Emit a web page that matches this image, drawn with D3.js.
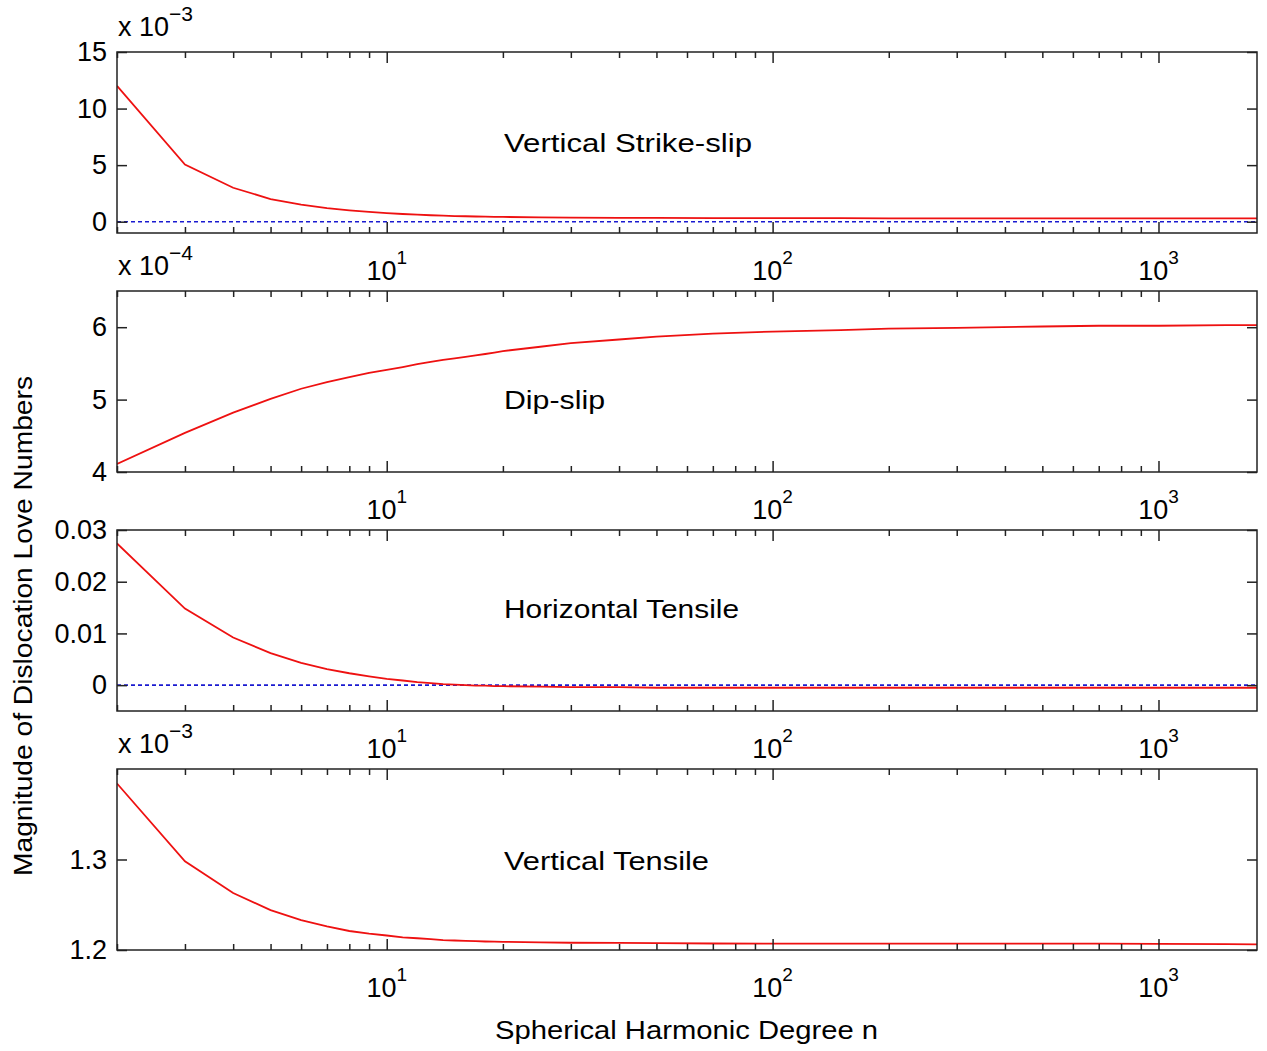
<!DOCTYPE html>
<html><head><meta charset="utf-8">
<script src="https://cdn.jsdelivr.net/npm/d3@7"></script>
<style>
body{margin:0;background:#fff}
svg{display:block}
text{font-family:"Liberation Sans",Arial,sans-serif;fill:#000}
</style>
</head><body>
<svg id="chart" width="1267" height="1051"></svg>
<script>
// ---- data ----
const degrees = [2,3,4,5,6,7,8,9,10,11,12,13,14,15,16,17,18,19,20,25,30,40,50,70,100,150,200,300,500,700,1000,1500,1800];
// x 1e-3
const strikeSlip = [12.0,5.05,3.0,2.0,1.5,1.2,1.0,0.86,0.76,0.68,0.62,0.57,0.53,0.50,0.48,0.46,0.44,0.43,0.42,0.38,0.36,0.34,0.33,0.32,0.31,0.31,0.30,0.30,0.30,0.30,0.30,0.30,0.30];
// x 1e-4
const dipSlip = [4.11,4.54,4.82,5.01,5.15,5.24,5.31,5.37,5.41,5.45,5.49,5.52,5.55,5.57,5.59,5.61,5.63,5.65,5.67,5.73,5.78,5.83,5.87,5.91,5.94,5.96,5.98,5.99,6.01,6.02,6.02,6.03,6.03];
const horizontalTensile = [0.0274,0.0148,0.0092,0.0062,0.0043,0.0031,0.0023,0.0017,0.0012,0.0009,0.0006,0.0004,0.0002,0.0001,0.0,-0.0001,-0.0001,-0.0002,-0.0002,-0.0003,-0.0004,-0.0004,-0.0005,-0.0005,-0.0005,-0.0005,-0.0005,-0.0005,-0.0005,-0.0005,-0.0005,-0.0005,-0.0005];
// x 1e-3
const verticalTensile = [1.384,1.298,1.263,1.244,1.233,1.226,1.221,1.218,1.216,1.214,1.213,1.212,1.211,1.2105,1.210,1.2097,1.2094,1.2092,1.209,1.2085,1.208,1.2078,1.2075,1.2072,1.207,1.207,1.207,1.207,1.207,1.207,1.2068,1.2065,1.2062];

const panelTitles = ["Vertical Strike-slip","Dip-slip","Horizontal Tensile","Vertical Tensile"];
const yDomains = [[-1,15],[4,6.5],[-0.005,0.03],[1.2,1.4]];
const yTicksStrike = [0,5,10,15];
const yTicksDip = [4,5,6];
const yTicksHoriz = [0,0.01,0.02,0.03];
const yTicksVert = [1.2,1.3];
const yTickLabelsStrike = ["0","5","10","15"];
const yTickLabelsDip = ["4","5","6"];
const yTickLabelsHoriz = ["0","0.01","0.02","0.03"];
const yTickLabelsVert = ["1.2","1.3"];
const exponentLabels = ["\u22123","\u22124",null,"\u22123"];
const zeroLines = [true,false,true,false];
const xDomain = [2,1800];
const xMajorTicks = [10,100,1000];
const xMajorExponents = ["1","2","3"];
const xLabel = "Spherical Harmonic Degree n";
const yLabel = "Magnitude of Dislocation Love Numbers";

// ---- build ----
const seriesList = [strikeSlip, dipSlip, horizontalTensile, verticalTensile];
const tickList = [yTicksStrike, yTicksDip, yTicksHoriz, yTicksVert];
const tickLabelList = [yTickLabelsStrike, yTickLabelsDip, yTickLabelsHoriz, yTickLabelsVert];

const svg = d3.select("#chart");
const left = 117, right = 1257;
const tops = [52, 291, 530, 769];
const ph = 181;
const titleOffsets = [100, 118, 88, 101];
const titleWidths = [248, 101, 235, 205];

const x = d3.scaleLog().domain(xDomain).range([left, right]);
const minorTicks = x.ticks().filter(t => !xMajorTicks.includes(t));

const fs = 27;

panelTitles.forEach((title, i) => {
  const g = svg.append("g").attr("transform", `translate(0,${tops[i]})`);
  const y = d3.scaleLinear().domain(yDomains[i]).range([ph, 0]);
  const clipId = "clip" + i;
  g.append("clipPath").attr("id", clipId).append("rect")
    .attr("x", left).attr("y", 0).attr("width", right - left).attr("height", ph);

  const data = degrees.map((n, k) => ({n, v: seriesList[i][k]}));

  if (zeroLines[i]) {
    g.append("line")
      .attr("x1", x.range()[0]).attr("x2", x.range()[1])
      .attr("y1", y(0)).attr("y2", y(0))
      .attr("stroke", "#1a1ad0").attr("stroke-width", 1.6)
      .attr("stroke-dasharray", "4,3");
  }

  g.append("path").datum(data)
    .attr("clip-path", `url(#${clipId})`)
    .attr("fill", "none").attr("stroke", "#ee1111").attr("stroke-width", 1.8)
    .attr("d", d3.line().x(d => x(d.n)).y(d => y(d.v)));

  const axStyle = sel => {
    sel.select(".domain").remove();
    sel.selectAll(".tick line").attr("stroke", "#222").attr("stroke-width", 1.5);
    sel.selectAll("text").attr("font-size", fs).attr("font-family", '"Liberation Sans",Arial,sans-serif').attr("fill", "#000");
  };
  g.append("g").attr("transform", `translate(0,${ph})`)
    .call(d3.axisBottom(x).tickValues(xMajorTicks).tickSize(-11).tickFormat("")).call(axStyle);
  g.append("g").attr("transform", `translate(0,${ph})`)
    .call(d3.axisBottom(x).tickValues(minorTicks).tickSize(-6).tickFormat("")).call(axStyle);
  g.append("g")
    .call(d3.axisTop(x).tickValues(xMajorTicks).tickSize(-11).tickFormat("")).call(axStyle);
  g.append("g")
    .call(d3.axisTop(x).tickValues(minorTicks).tickSize(-6).tickFormat("")).call(axStyle);

  const labels = tickLabelList[i];
  g.append("g").attr("transform", `translate(${left},0)`)
    .call(d3.axisLeft(y).tickValues(tickList[i]).tickSize(-10).tickPadding(10)
      .tickFormat((d, k) => labels[k])).call(axStyle);
  g.append("g").attr("transform", `translate(${right},0)`)
    .call(d3.axisRight(y).tickValues(tickList[i]).tickSize(-10).tickFormat("")).call(axStyle);

  g.append("rect").attr("x", left).attr("y", 0).attr("width", right - left).attr("height", ph)
    .attr("fill", "none").attr("stroke", "#222").attr("stroke-width", 1.5);

  xMajorTicks.forEach((t, k) => {
    const tx = g.append("text").attr("x", x(t)).attr("y", ph + 47)
      .attr("text-anchor", "middle").attr("font-size", fs);
    tx.append("tspan").text("10");
    tx.append("tspan").attr("dy", -16).attr("font-size", 19).text(xMajorExponents[k]);
  });

  if (exponentLabels[i]) {
    const ex = g.append("text").attr("x", left + 1).attr("y", -16).attr("font-size", 27);
    ex.append("tspan").text("x 10");
    ex.append("tspan").attr("dy", -15).attr("font-size", 21).text(exponentLabels[i]);
  }

  g.append("text").attr("x", 504).attr("y", titleOffsets[i]).attr("font-size", 25)
    .attr("textLength", titleWidths[i]).attr("lengthAdjust", "spacingAndGlyphs")
    .text(title);
});

svg.append("text").attr("x", 495).attr("y", 1039)
  .attr("font-size", 25).attr("textLength", 383).attr("lengthAdjust", "spacingAndGlyphs").text(xLabel);

svg.append("text").attr("transform", "translate(32,876) rotate(-90)")
  .attr("font-size", 25).attr("textLength", 500).attr("lengthAdjust", "spacingAndGlyphs").text(yLabel);
</script>
</body></html>
